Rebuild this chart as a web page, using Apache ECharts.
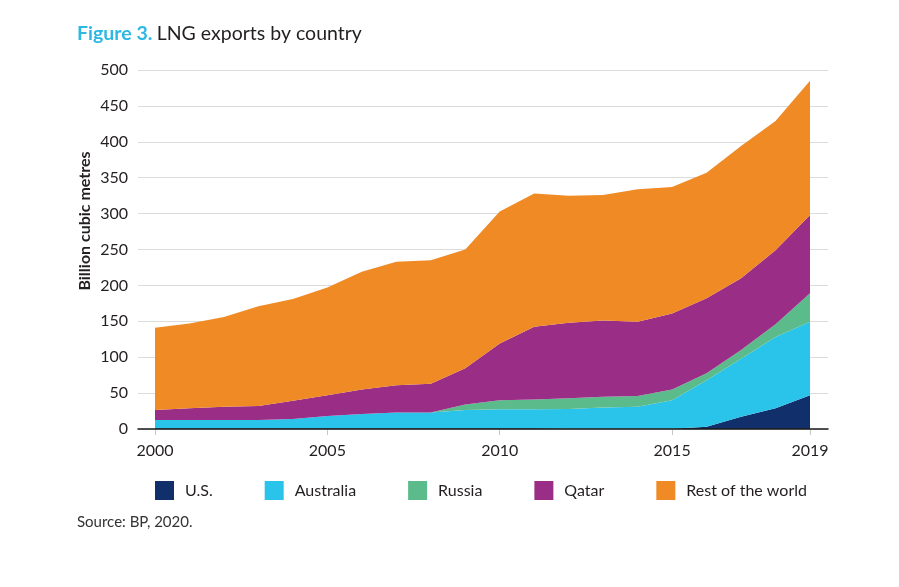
<!DOCTYPE html>
<html>
<head>
<meta charset="utf-8">
<script src="https://cdn.jsdelivr.net/npm/echarts@6/dist/echarts.min.js"></script>
<style>
  html, body { margin: 0; padding: 0; background: #fff; }
  #chart { width: 899px; height: 587px; }
</style>
</head>
<body>
<div id="chart"></div>
<script>
// data (billion cubic metres)
const years = ['2000', '2001', '2002', '2003', '2004', '2005', '2006', '2007', '2008', '2009',
               '2010', '2011', '2012', '2013', '2014', '2015', '2016', '2017', '2018', '2019'];
const us        = [1, 1, 1, 1, 1, 1, 1, 1, 1, 1, 1, 1, 0.5, 0.3, 0.3, 0.5, 3, 17, 29, 47];
const australia = [11.5, 11.5, 11.5, 11.5, 13, 17, 20, 22, 22, 25.5, 26.5, 26.5, 27.5, 29.7, 30.7, 39.5, 65, 81, 99, 102.5];
const russia    = [0, 0, 0, 0, 0, 0, 0, 0, 0, 7.5, 12.5, 13.5, 15, 15, 15, 15, 9.5, 12, 18, 39.5];
const qatar     = [14, 16.5, 18.5, 19.5, 25.5, 29, 34, 38, 40, 50.5, 79, 101.5, 105, 106, 103.5, 106, 104.5, 100, 103, 109];
const rest      = [114.5, 118, 125, 139, 141.5, 150, 164, 172, 172, 165.5, 184, 185.5, 177, 175, 184.5, 176, 175, 184, 180, 187];
const xTicks = ['2000', '2005', '2010', '2015', '2019'];

const FONT = 'Lato';
const TXT = '#231f20';

function area(name, color, arr) {
    return {
        name: name,
        type: 'line',
        xAxisIndex: 1,
        yAxisIndex: 1,
        stack: 'total',
        showSymbol: false,
        symbol: 'none',
        lineStyle: { width: 0 },
        areaStyle: { color: color, opacity: 1 },
        itemStyle: { color: color },
        emphasis: { disabled: true },
        data: arr
    };
}

const showTick = (i, v) => xTicks.indexOf(v) >= 0;

const chart = echarts.init(document.getElementById('chart'));
chart.setOption({
    animation: false,
    textStyle: { fontFamily: FONT },
    title: {
        left: 72,
        top: 19,
        text: '{a|Figure 3.} {b|LNG exports by country}',
        textStyle: {
            rich: {
                a: { fontFamily: FONT, fontSize: 19.5, fontWeight: 'bold', color: '#2db8e3' },
                b: { fontFamily: FONT, fontSize: 19.5, fontWeight: 'normal', color: TXT }
            }
        }
    },
    legend: {
        left: 150,
        top: 476,
        icon: 'rect',
        itemWidth: 19,
        itemHeight: 19,
        itemGap: 52,
        textStyle: { fontFamily: FONT, fontSize: 16, color: TXT, padding: [0, 0, 0, 6] },
        data: ['U.S.', 'Australia', 'Russia', 'Qatar', 'Rest of the world']
    },
    grid: [
        // background grid: gridlines and axis line run a bit past the data
        { left: 138, right: 71, top: 70, bottom: 158 },
        // data grid
        { left: 155, right: 89, top: 70, bottom: 158 }
    ],
    xAxis: [
        {
            gridIndex: 0,
            type: 'value',
            min: 0,
            max: 1,
            splitLine: { show: false },
            axisLine: { show: true, onZero: false, lineStyle: { color: '#1a1a1a', width: 1.5 } },
            axisTick: { show: false },
            axisLabel: { show: false },
            z: 5
        },
        {
            gridIndex: 1,
            type: 'category',
            boundaryGap: false,
            data: years,
            axisLine: { show: false },
            axisTick: { show: true, interval: showTick, length: 6, lineStyle: { color: '#c8c8c8' } },
            axisLabel: {
                interval: showTick,
                margin: 14,
                fontSize: 16,
                color: TXT,
                fontFamily: FONT
            },
            splitLine: { show: false }
        }
    ],
    yAxis: [
        {
            gridIndex: 0,
            type: 'value',
            min: 0,
            max: 500,
            interval: 50,
            axisLine: { show: false },
            axisTick: { show: false },
            axisLabel: { margin: 10, fontSize: 16, color: TXT, fontFamily: FONT },
            splitLine: { lineStyle: { color: '#dcdcdc', width: 1 } }
        },
        {
            gridIndex: 1,
            type: 'value',
            min: 0,
            max: 500,
            interval: 50,
            axisLine: { show: false },
            axisTick: { show: false },
            axisLabel: { show: false },
            splitLine: { show: false }
        }
    ],
    graphic: [
        {
            type: 'text',
            x: 85,
            y: 221,
            rotation: Math.PI / 2,
            style: {
                text: 'Billion cubic metres',
                fontFamily: FONT,
                fontSize: 16,
                fontWeight: 'bold',
                fill: TXT,
                align: 'center',
                verticalAlign: 'middle'
            }
        },
        {
            type: 'text',
            x: 77,
            y: 522,
            style: {
                text: 'Source: BP, 2020.',
                fontFamily: FONT,
                fontSize: 15,
                fill: '#333',
                verticalAlign: 'middle'
            }
        }
    ],
    series: [
        area('U.S.', '#11306b', us),
        area('Australia', '#2ac3ea', australia),
        area('Russia', '#5cbb8b', russia),
        area('Qatar', '#9a2d86', qatar),
        area('Rest of the world', '#ef8a24', rest)
    ]
});
</script>
</body>
</html>
